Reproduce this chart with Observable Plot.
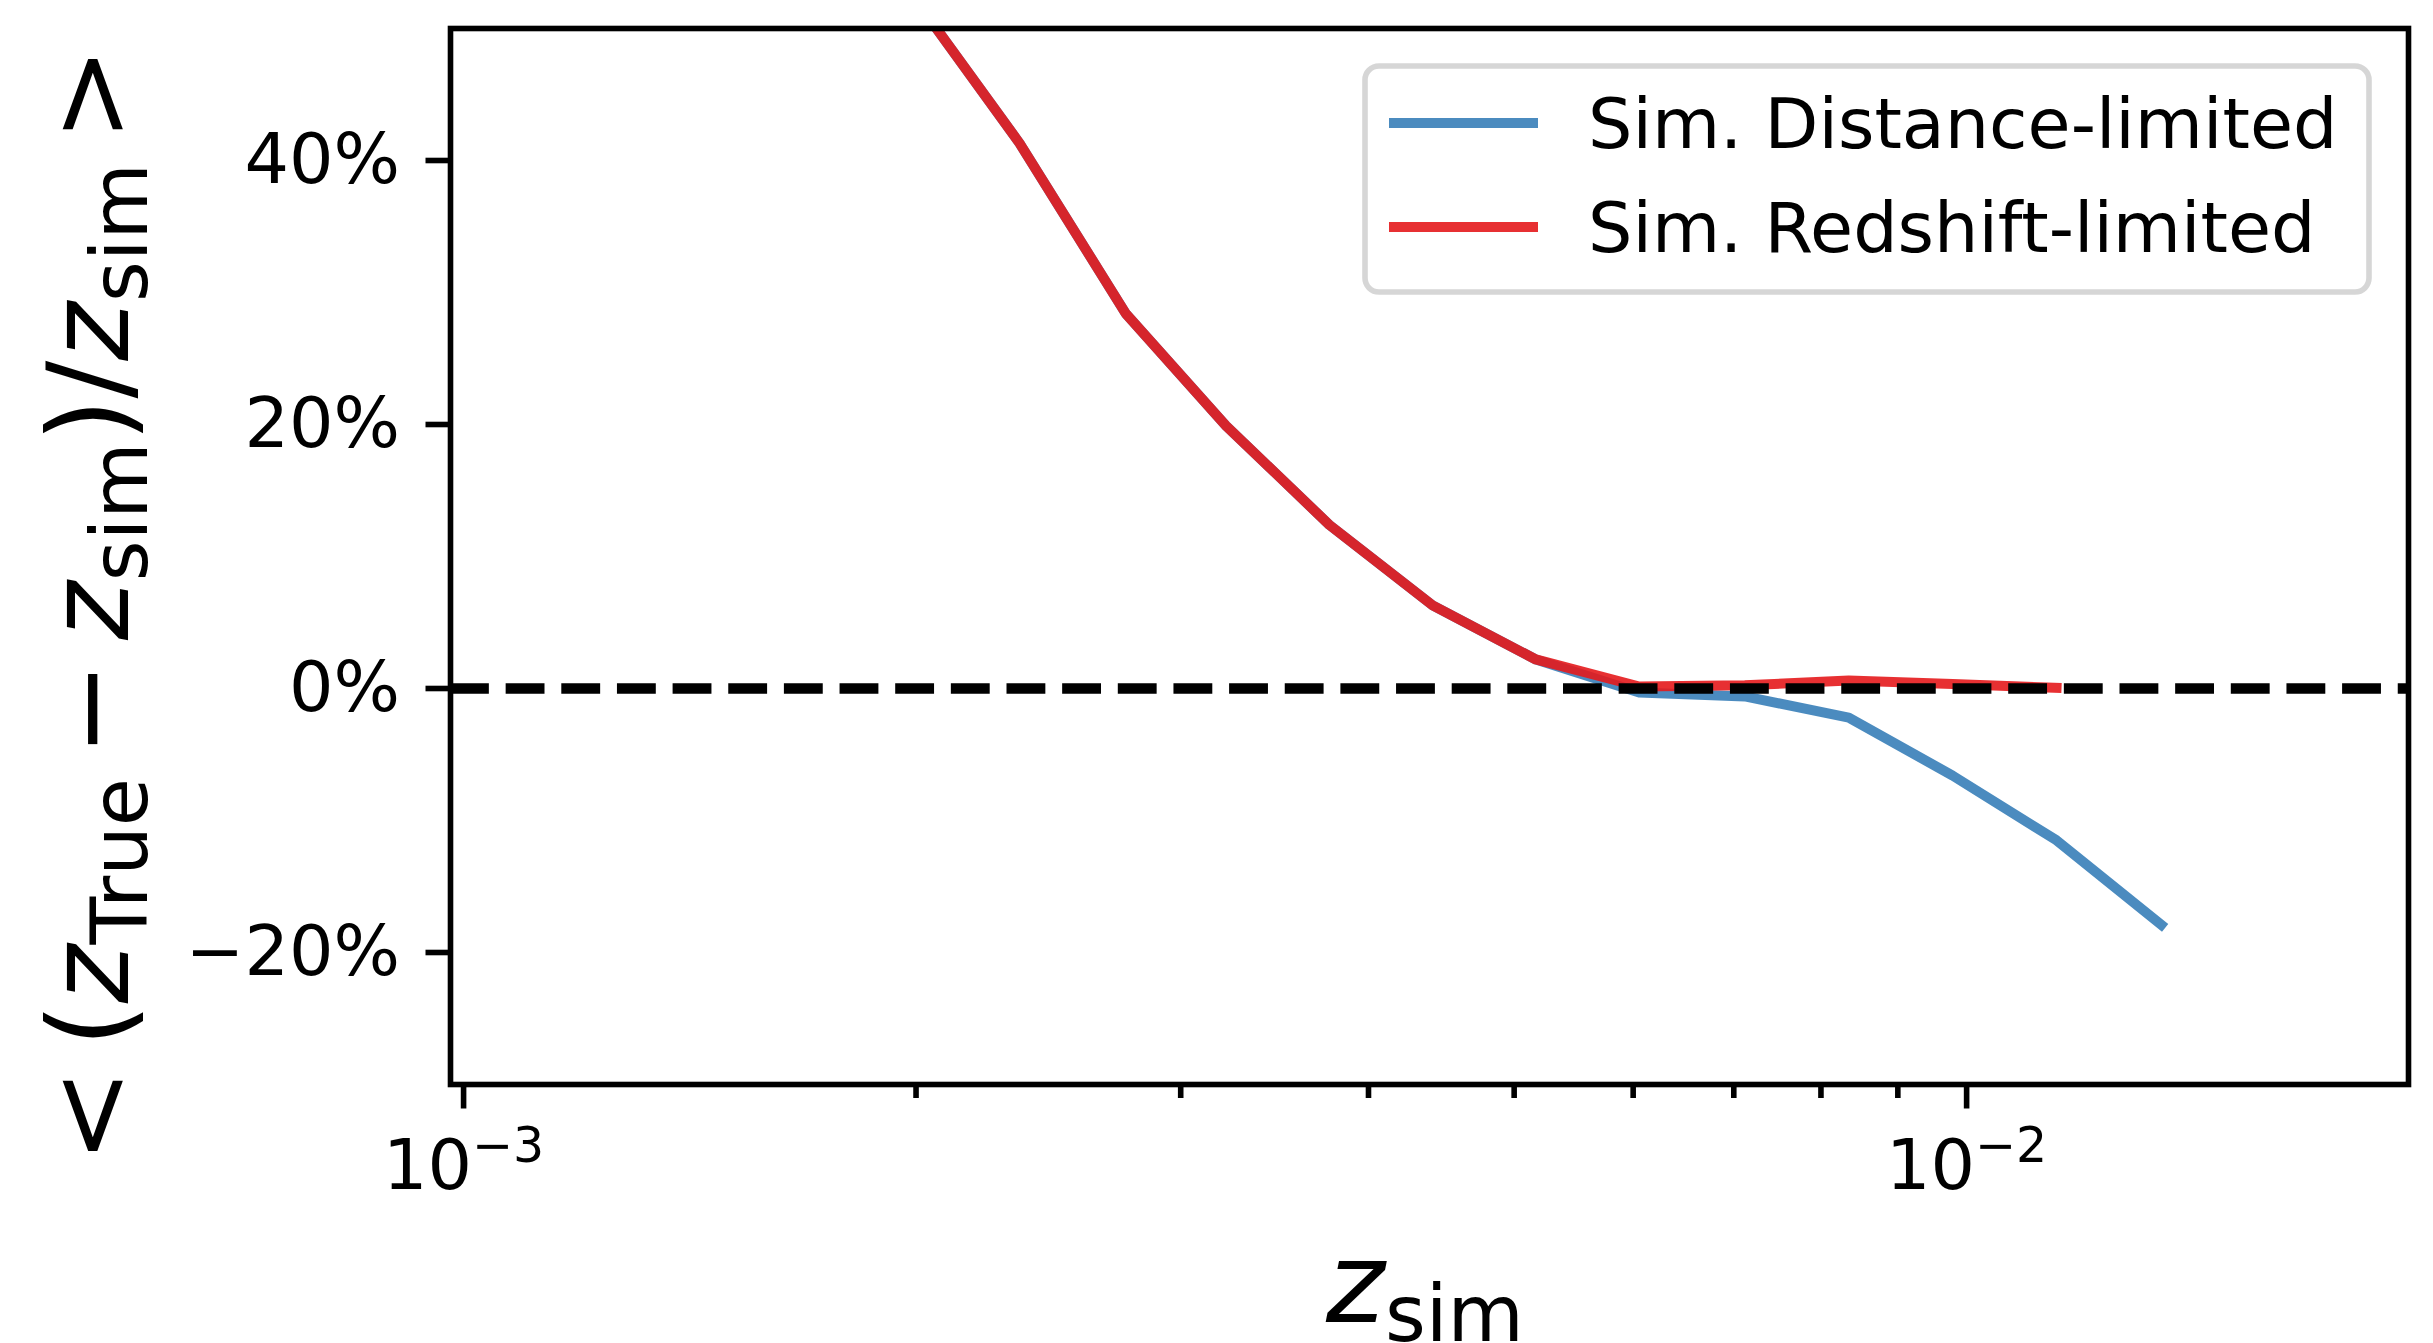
<!DOCTYPE html>
<html>
<head>
<meta charset="utf-8">
<script src="https://cdn.jsdelivr.net/npm/d3@7"></script>
<script src="https://cdn.jsdelivr.net/npm/@observablehq/plot@0.6"></script>
<style>
  html, body { margin: 0; padding: 0; background: #ffffff; }
  svg { display: block; }
</style>
</head>
<body>
<div id="chart"></div>
<script>
// ---- data ----
const zSim = [0.002001, 0.002344, 0.002758, 0.003216, 0.003767, 0.004413, 0.005169,
              0.006056, 0.007119, 0.008348, 0.009788, 0.011477, 0.013474];
const distanceLimited = [52.1, 41.3, 28.4, 19.9, 12.4, 6.3, 2.2, -0.3, -0.6, -2.2, -6.6, -11.5, -17.9];
const redshiftLimited = [52.1, 41.3, 28.4, 19.9, 12.4, 6.3, 2.2, 0.15, 0.25, 0.6, 0.35, 0.05];
const seriesNames = ["Sim. Distance-limited", "Sim. Redshift-limited"];
const seriesColors = ["#377eb8", "#e41a1c"];
const yTicks = [-20, 0, 20, 40];
const xMajorTicks = [0.001, 0.01];
const xMinorTicks = [0.002, 0.003, 0.004, 0.005, 0.006, 0.007, 0.008, 0.009];

const blueData = zSim.map((x, i) => ({x, y: distanceLimited[i]}));
const redData = redshiftLimited.map((y, i) => ({x: zSim[i], y}));

const W = 2433, H = 1343;
const FONT = "DejaVu Sans";
const LW = 10;

const svg = Plot.plot({
  width: W,
  height: H,
  marginLeft: 450,
  marginRight: 25,
  marginTop: 28,
  marginBottom: 259,
  style: {fontFamily: FONT, fontSize: "70px", color: "black", background: "white", overflow: "visible"},
  x: {type: "log", domain: [Math.pow(10, -3.0087), Math.pow(10, -1.706)]},
  y: {domain: [-30, 50]},
  marks: [
    Plot.line(blueData, {x: "x", y: "y", stroke: seriesColors[0], strokeOpacity: 0.9, strokeWidth: LW,
      strokeLinejoin: "round", strokeLinecap: "square", clip: true}),
    Plot.line(redData, {x: "x", y: "y", stroke: seriesColors[1], strokeOpacity: 0.9, strokeWidth: LW,
      strokeLinejoin: "round", strokeLinecap: "square", clip: true}),
    Plot.ruleY([0], {stroke: "black", strokeWidth: 10.5, strokeDasharray: "38.85 16.8"}),
    Plot.axisY({ticks: yTicks, tickSize: 24.5, tickPadding: 26, strokeWidth: 5.6, fontSize: 70, label: null,
      tickFormat: d => (d < 0 ? "\u2212" : "") + Math.abs(d) + "%"}),
    Plot.axisX({ticks: xMajorTicks, tickSize: 24.5, tickPadding: 30, strokeWidth: 5.6, fontSize: 70, label: null,
      tickFormat: d => "10^" + Math.round(Math.log10(d))}),
    Plot.axisX({ticks: xMinorTicks, tickSize: 14, strokeWidth: 5.6, label: null, tickFormat: () => ""}),
    Plot.frame({stroke: "black", strokeWidth: 5.6})
  ]
});

const root = d3.select(svg);

// superscript exponents on the log-axis tick labels
root.selectAll("text").each(function () {
  const t = this.textContent;
  if (t && t.startsWith("10^")) {
    const exp = t.split("^")[1].replace("-", "\u2212");
    this.textContent = "";
    const sel = d3.select(this);
    sel.append("tspan").text("10");
    sel.append("tspan").attr("dy", -27).style("font-size", "49px").text(exp);
  }
});

// axis labels (mathtext-like)
const LBL = 112, SUB = LBL * 0.7, SHIFT = 19, SP = 22;
function addPart(t, str, opts = {}) {
  const s = t.append("tspan").text(str);
  if (opts.italic) s.style("font-style", "oblique");
  if (opts.size) s.style("font-size", opts.size + "px");
  if (opts.dy) s.attr("dy", opts.dy);
  if (opts.dx) s.attr("dx", opts.dx);
  return s;
}

const yl = root.append("text")
  .attr("transform", "translate(128,605) rotate(-90)")
  .attr("text-anchor", "middle")
  .style("font-family", FONT).style("font-size", LBL + "px").attr("fill", "black");
addPart(yl, "<");
addPart(yl, "(", {dx: SP});
addPart(yl, "z", {italic: true});
addPart(yl, "True", {size: SUB, dy: SHIFT});
addPart(yl, "\u2212", {dy: -SHIFT, dx: SP});
addPart(yl, "z", {italic: true, dx: SP});
addPart(yl, "sim", {size: SUB, dy: SHIFT});
addPart(yl, ")", {dy: -SHIFT});
addPart(yl, "/");
addPart(yl, "z", {italic: true});
addPart(yl, "sim", {size: SUB, dy: SHIFT});
addPart(yl, ">", {dy: -SHIFT, dx: SP});

const xl = root.append("text")
  .attr("x", 1425).attr("y", 1322)
  .attr("text-anchor", "middle")
  .style("font-family", FONT).style("font-size", LBL + "px").attr("fill", "black");
addPart(xl, "z", {italic: true});
addPart(xl, "sim", {size: SUB, dy: SHIFT});

// legend
const lg = root.append("g").attr("class", "legend").attr("text-anchor", "start");
lg.append("rect")
  .attr("x", 1365).attr("y", 66).attr("width", 1004).attr("height", 226)
  .attr("rx", 14).attr("ry", 14)
  .attr("fill", "white").attr("fill-opacity", 0.8)
  .attr("stroke", "#cccccc").attr("stroke-opacity", 0.8).attr("stroke-width", 5.6);
const rowY = [123, 227];
seriesNames.forEach((name, i) => {
  lg.append("line")
    .attr("x1", 1389).attr("x2", 1538).attr("y1", rowY[i]).attr("y2", rowY[i])
    .attr("stroke", seriesColors[i]).attr("stroke-opacity", 0.9).attr("stroke-width", LW);
  lg.append("text")
    .attr("x", 1588).attr("y", rowY[i] + 25)
    .attr("text-anchor", "start")
    .style("font-family", FONT).style("font-size", "70px").attr("fill", "black")
    .text(name);
});

document.getElementById("chart").appendChild(svg);
</script>
</body>
</html>
